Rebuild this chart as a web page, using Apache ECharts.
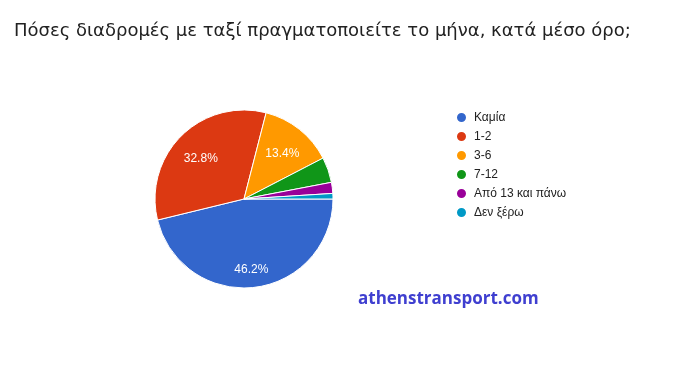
<!DOCTYPE html>
<html><head><meta charset="utf-8">
<script src="https://cdn.jsdelivr.net/npm/echarts@6/dist/echarts.min.js"></script>
<style>html,body{margin:0;padding:0;background:#fff}#c{width:674px;height:385px}</style>
</head><body><div id="c"></div>
<script>
const categories = ['Καμία', '1-2', '3-6', '7-12', 'Από 13 και πάνω', 'Δεν ξέρω'];
const values = [46.2, 32.8, 13.4, 4.6, 2.0, 1.0];
const colors = ['#3366cc', '#dc3912', '#ff9900', '#109618', '#990099', '#0099c6'];
const titleText = 'Πόσες διαδρομές με ταξί πραγματοποιείτε το μήνα, κατά μέσο όρο;';
const watermark = 'athenstransport.com';

const data = categories.map((n, i) => ({ name: n, value: values[i] }));
const chart = echarts.init(document.getElementById('c'));
chart.setOption({
  animation: false,
  color: colors,
  title: [
    { text: titleText, left: 9, top: 17, textStyle: { fontFamily: 'DejaVu Sans', fontSize: 18, fontWeight: 'normal', color: '#222' } },
    { text: watermark, left: 353, top: 286, textStyle: { fontFamily: 'Open Sans, sans-serif', fontSize: 17, fontWeight: 'bold', color: '#3f3fd0' } }
  ],
  legend: {
    orient: 'vertical', left: 450, top: 106,
    icon: 'circle', itemWidth: 11, itemHeight: 11, itemGap: 6,
    textStyle: { fontFamily: 'Liberation Sans, Arial', fontSize: 12, color: '#222', padding: [0, 0, 0, 2] },
    data: categories
  },
  series: [
    {
      type: 'pie', center: [244, 199], radius: 89, startAngle: 0, clockwise: true,
      itemStyle: { borderColor: '#fff', borderWidth: 1 },
      label: { show: false }, labelLine: { show: false },
      emphasis: { disabled: true },
      data: data
    },
    {
      type: 'pie', center: [244, 199], radius: [28, 89], startAngle: 0, clockwise: true,
      silent: true, legendHoverLink: false,
      itemStyle: { color: 'rgba(0,0,0,0)', borderWidth: 0 },
      label: {
        show: true, position: 'inside', color: '#fff', fontSize: 12, fontFamily: 'Liberation Sans, Arial',
        formatter: p => p.value >= 10 ? p.value.toFixed(1) + '%' : ''
      },
      labelLayout: p => ({ dy: p.dataIndex === 0 ? 10 : 3 }),
      labelLine: { show: false },
      emphasis: { disabled: true },
      data: data.map(d => ({ name: d.name, value: d.value }))
    }
  ]
});
</script></body></html>
